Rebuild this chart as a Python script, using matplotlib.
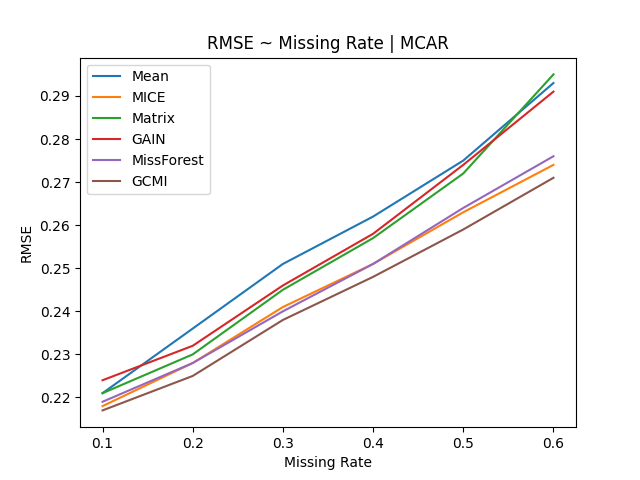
import matplotlib
matplotlib.use('Agg')
import matplotlib.pyplot as plt

# missing rates on the x axis
rates = [0.1, 0.2, 0.3, 0.4, 0.5, 0.6]

# RMSE per imputation method
mean_rmse = [0.221, 0.236, 0.251, 0.262, 0.275, 0.293]
mice_rmse = [0.218, 0.228, 0.241, 0.251, 0.263, 0.274]
matrix_rmse = [0.221, 0.230, 0.245, 0.257, 0.272, 0.295]
gain_rmse = [0.224, 0.232, 0.246, 0.258, 0.274, 0.291]
missforest_rmse = [0.219, 0.228, 0.240, 0.251, 0.264, 0.276]
gcmi_rmse = [0.217, 0.225, 0.238, 0.248, 0.259, 0.271]

fig, ax = plt.subplots(figsize=(6.4, 4.8), dpi=100)

ax.plot(rates, mean_rmse, label='Mean')
ax.plot(rates, mice_rmse, label='MICE')
ax.plot(rates, matrix_rmse, label='Matrix')
ax.plot(rates, gain_rmse, label='GAIN')
ax.plot(rates, missforest_rmse, label='MissForest')
ax.plot(rates, gcmi_rmse, label='GCMI')

ax.set_title('RMSE ~ Missing Rate | MCAR')
ax.set_xlabel('Missing Rate')
ax.set_ylabel('RMSE')
ax.legend(loc='upper left')

plt.savefig('out.png')
